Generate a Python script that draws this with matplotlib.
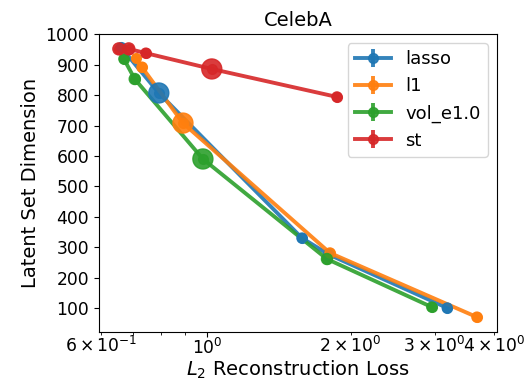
import numpy as np
from matplotlib import pyplot as plt

# reconstruction loss (x), latent set dimension (y), marker area per point
lasso_loss = [0.660, 0.793, 1.582, 1.80, 3.19]
lasso_dim = [958, 807, 330, 276, 100]
lasso_area = [33, 207, 52, 52, 52]

l1_loss = [0.710, 0.731, 0.891, 1.811, 3.68]
l1_dim = [922, 892, 708, 281, 70]
l1_area = [33, 52, 207, 52, 52]

vol_loss = [0.670, 0.706, 0.981, 1.785, 2.96]
vol_dim = [919, 853, 590, 261, 103]
vol_area = [52, 63, 207, 63, 52]

st_loss = [0.654, 0.686, 0.745, 1.024, 1.873]
st_dim = [952, 952, 938, 886, 794]
st_area = [75, 75, 52, 207, 52]

series = [
    ("lasso", lasso_loss, lasso_dim, lasso_area),
    ("l1", l1_loss, l1_dim, l1_area),
    ("vol_e1.0", vol_loss, vol_dim, vol_area),
    ("st", st_loss, st_dim, st_area),
]
colors = ["tab:blue", "tab:orange", "tab:green", "tab:red"]

fig = plt.figure(figsize=(5.29, 3.81), dpi=100)
ax = fig.add_axes([0.187, 0.1286, 0.7525, 0.7822])

for (name, x, y, s), c in zip(series, colors):
    ax.errorbar(x, y, yerr=np.zeros(len(y)), color=c, marker="o", markersize=7,
                linewidth=2.8, elinewidth=2.8, alpha=0.9, label=name)
    ax.scatter(x, y, s=s, color=c, alpha=0.9, zorder=3)

ax.set_xscale("log")
ax.set_xlim(0.594, 4.055)
ax.set_ylim(21, 1001)
ax.set_yticks(range(100, 1001, 100))
ax.tick_params(which="both", labelsize=12.3)
ax.tick_params(axis="x", which="both", pad=1)
ax.set_title("CelebA", fontsize=14)
ax.set_xlabel("$L_2$ Reconstruction Loss", fontsize=14, labelpad=0.5)
ax.set_ylabel("Latent Set Dimension", fontsize=14)
ax.legend(loc="upper right", fontsize=13)

fig.savefig("out.png", dpi=100)
